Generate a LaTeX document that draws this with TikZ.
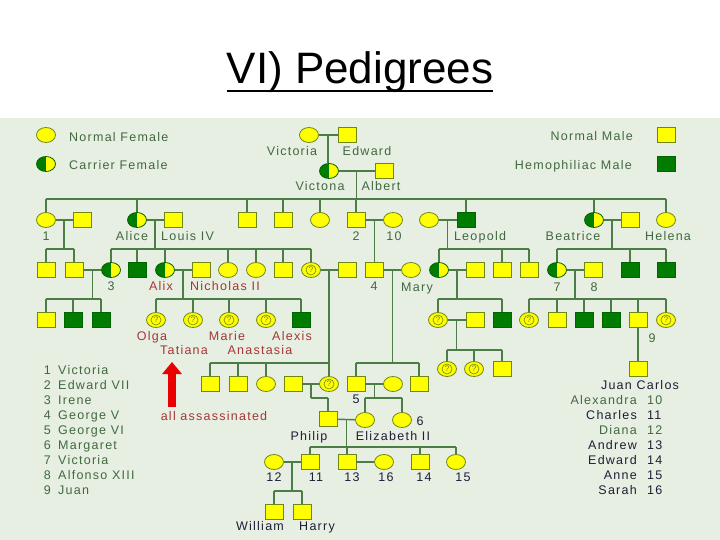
\documentclass[tikz,border=0pt]{standalone}
\usepackage{fontspec}
\setmainfont{Liberation Sans}
\newfontfamily\spacedfont[LetterSpace=10]{Liberation Sans}
\usetikzlibrary{shapes.geometric,calc,arrows.meta}
\definecolor{bggreen}{RGB}{231,238,226}
\definecolor{symyel}{RGB}{255,255,0}
\definecolor{symline}{RGB}{110,135,20}
\definecolor{hemgreen}{RGB}{0,125,0}
\definecolor{linkgreen}{RGB}{77,125,70}
\definecolor{lblgreen}{RGB}{65,105,65}
\definecolor{lblred}{RGB}{165,55,55}
\definecolor{lblnavy}{RGB}{30,30,55}
\definecolor{arrred}{RGB}{235,0,0}

\tikzset{
  fem/.style={ellipse, draw=symline, fill=symyel, line width=0.8pt, minimum width=19pt, minimum height=15pt, inner sep=0pt},
  mal/.style={rectangle, draw=symline, fill=symyel, line width=0.8pt, minimum width=18pt, minimum height=15pt, inner sep=0pt},
  hemo/.style={mal, fill=hemgreen, draw=hemgreen!80!black},
  carr/.style={fem, draw=hemgreen!80!black, path picture={\fill[hemgreen] (path picture bounding box.south west) rectangle (path picture bounding box.north);}},
  unk/.style={fem, text=symline, font=\fontsize{8}{8}\selectfont, path picture={\draw[symline, line width=0.6pt] (path picture bounding box.center) circle (5pt);}},
  link/.style={draw=linkgreen, line width=1.4pt},
  lbl/.style={font=\spacedfont\fontsize{12.5}{14}\selectfont, text=lblgreen, inner sep=0pt, text height=9pt, text depth=2.5pt},
  redlbl/.style={lbl, text=lblred},
  navylbl/.style={lbl, text=lblnavy}
}

\begin{document}
\begin{tikzpicture}[x=1pt,y=-1pt]
  \useasboundingbox (0,0) rectangle (720,540);
  \fill[bggreen] (0,118) rectangle (720,540);
  \node[font=\fontsize{44}{50}\selectfont, anchor=base, inner sep=0pt] (title) at (360,84) {VI) Pedigrees};
  \draw[line width=2.2pt] ([yshift=-7pt]title.base west) -- ([yshift=-7pt]title.base east);

  \foreach \n/\x/\y in {lf1/46/135, vic0/309/135, g1a/46/220, g1d/320/220, alex10/393/220, leow/429/220,
    hel/666/220, g2d/228/270, g2e/256/270, mary/411/270, g4c/266/384, g4e/393/384, eliz/365/420,
    marg/402/420, diana/274/462, sarah/384/462, anne/456/462}
    \node[fem] (\n) at (\x,\y) {};
  \foreach \n/\x/\y in {lf2/46/164, vic/329/171, alice/137/220, beat/594/220, irene/111/270, alix/165/270,
    alic/439/270, vic7/557/270}
    \node[carr] (\n) at (\x,\y) {};
  \foreach \n/\x/\y in {lm1/666/135, edw/347/135, alb/384/171, g1ah/82/220, louis/173/220, g1b/247/220,
    g1c/283/220, edw7/356/220, beath/630/220, ir1/46/270, ir2/74/270, nich/201/270, g2f/283/270,
    g2gh/347/270, geo5/374/270, alich/475/270, g2l1/502/270, g2l2/529/270, alf8/593/270, g3a/46/320,
    g3l1h/475/320, g3s2/557/320, juan/638/320, g4a/210/384, g4b/238/384, g4dh/293/384, geo6/356/384,
    g4f/419/384, g4r3/502/369, jc/638/369, philip/328/419, charles/310/462, andrew/347/462,
    edward/420/462, william/274/512, harry/302/512}
    \node[mal] (\n) at (\x,\y) {};
  \foreach \n/\x/\y in {lm2/666/164, leo/466/220, fritz/137/270, g2b2/630/270, g2b3/666/270, g3b/73/320,
    g3c/101/320, alexis/301/320, g3l2/502/320, g3s3/584/320, g3s4/611/320}
    \node[hemo] (\n) at (\x,\y) {};
  \foreach \n/\x/\y in {g2g/311/270, olga/156/320, tat/193/320, marie/229/320, anas/266/320,
    g3l1/438/320, g3s1/529/320, g3s6/666/320, g4d/329/384, g4r1/447/369, g4r2/474/369}
    \node[unk] (\n) at (\x,\y) {?};

  \foreach \a/\b in {vic0/edw, vic/alb, g1a/g1ah, alice/louis, edw7/alex10, leow/leo, beat/beath,
    ir2/irene, alix/nich, g2g/g2gh, geo5/mary, alic/alich, vic7/alf8, g3l1/g3l1h, g4dh/g4d,
    geo6/g4e, philip/eliz, diana/charles, andrew/sarah}
    \draw[link] (\a) -- (\b);

  \coordinate (m0) at ($(vic0)!.5!(edw)$);
  \draw[link] (m0) -- (m0 |- vic.north);
  \coordinate (m4) at ($(edw7)!.5!(alex10)$);
  \draw[link] (m4) -- (m4 |- geo5.north);
  \draw[link] (juan) -- (jc);

  \foreach \a/\b/\y/\kl/\kr/\kids in {vic/alb/199/g1a/hel/{g1a,alice,g1b,g1c,g1d,edw7,leo,beat,hel},
    g1a/g1ah/249/ir1/ir2/{ir1,ir2}, alice/louis/249/irene/g2g/{irene,fritz,alix,g2d,g2e,g2f,g2g},
    leow/leo/249/alic/g2l2/{alic,g2l1,g2l2}, beat/beath/249/vic7/g2b3/{vic7,g2b2,g2b3},
    ir2/irene/299/g3a/g3c/{g3a,g3b,g3c}, alix/nich/299/olga/alexis/{olga,tat,marie,anas,alexis},
    g2g/g2gh/363/g4a/g4d/{g4a,g4b,g4c,g4d}, geo5/mary/363/geo6/g4f/{geo6,g4f},
    alic/alich/299/g3l1/g3l2/{g3l1,g3l2}, vic7/alf8/299/g3s1/g3s6/{g3s1,g3s2,g3s3,g3s4,juan,g3s6},
    g3l1/g3l1h/350/g4r1/g4r3/{g4r1,g4r2,g4r3}, g4dh/g4d/398/philip/philip/{philip},
    geo6/g4e/398/eliz/marg/{eliz,marg}, philip/eliz/447/charles/anne/{charles,andrew,edward,anne},
    diana/charles/491/william/harry/{william,harry}}
  {
    \coordinate (m) at ($(\a)!.5!(\b)$);
    \coordinate (bar) at (0,\y);
    \draw[link] (m) -- (m |- bar);
    \draw[link] (\kl |- bar) -- (m |- bar) -- (\kr |- bar);
    \foreach \k in \kids
      \draw[link] (\k |- bar) -- (\k.north);
  }

  \node[lbl, anchor=west] (tnf) at (69,138) {Normal Female};
  \node[lbl, anchor=west] (tcf) at (69,166) {Carrier Female};
  \node[lbl, anchor=east] (tnm) at (633,137) {Normal Male};
  \node[lbl, anchor=east] (thm) at (632,166) {Hemophiliac Male};
  \node[lbl, anchor=west] (tlouis) at (161,237) {Louis IV};
  \foreach \n/\x/\y/\t in {tvic0/292/152/Victoria, tedw/367/152/Edward, tvic/320/187/Victona,
    talb/381/187/Albert, tone/46/237/1, talice/132/237/Alice, ttwo/356/237/2, tten/394/237/10,
    tleo/480/237/Leopold, tbeat/573/237/Beatrice, thel/668/237/Helena, tthree/111/287/3,
    tfour/374/287/4, tmary/417/288/Mary, tseven/557/288/7, teight/594/288/8, tnine/652/339/9}
    \node[lbl] (\n) at (\x,\y) {\t};
  \foreach \n/\x/\y/\t in {talix/161/287/Alix, tnich/225/287/Nicholas II, tolga/152/337/Olga,
    tmarie/227/337/Marie, talexis/292/337/Alexis, ttat/184/351/Tatiana, tanas/260/351/Anastasia,
    tassas/214/417/all assassinated}
    \node[redlbl] (\n) at (\x,\y) {\t};
  \foreach \n/\x/\y/\t in {tfive/356/400/5, tsix/420/422/6, tphilip/309/437/Philip,
    teliz/393/437/Elizabeth II, ttwelve/274/478/12, televen/316/478/11, tthirteen/352/478/13,
    tsixteen/386/478/16, tfourteen/424/478/14, tfifteen/463/478/15, twill/260/527/William,
    tharry/317/527/Harry, tjc/640/386/Juan Carlos}
    \node[navylbl] (\n) at (\x,\y) {\t};

  \foreach \i/\t in {1/Victoria, 2/Edward VII, 3/Irene, 4/George V, 5/George VI, 6/Margaret,
    7/Victoria, 8/Alfonso XIII, 9/Juan}
  {
    \node[lbl, anchor=east] (num\i) at (51,356.5+15*\i) {\i};
    \node[lbl, anchor=west] (king\i) at (58,356.5+15*\i) {\t};
  }
  \foreach \t/\i/\c [count=\k] in {Alexandra/10/lblgreen, Charles/11/lblnavy, Diana/12/lblgreen,
    Andrew/13/lblnavy, Edward/14/lblnavy, Anne/15/lblnavy, Sarah/16/lblnavy}
  {
    \node[lbl, text=\c, anchor=east] (heir\i) at (637,386.5+15*\k) {\t};
    \node[lbl, text=\c, anchor=west] (heirn\i) at (647,386.5+15*\k) {\i};
  }

  \coordinate (arrtail) at (172,407);
  \coordinate (arrtip) at (172,362);
  \draw[line width=8pt, arrred, -{Triangle[width=19pt,length=12pt]}] (arrtail) -- (arrtip);
\end{tikzpicture}
\end{document}
